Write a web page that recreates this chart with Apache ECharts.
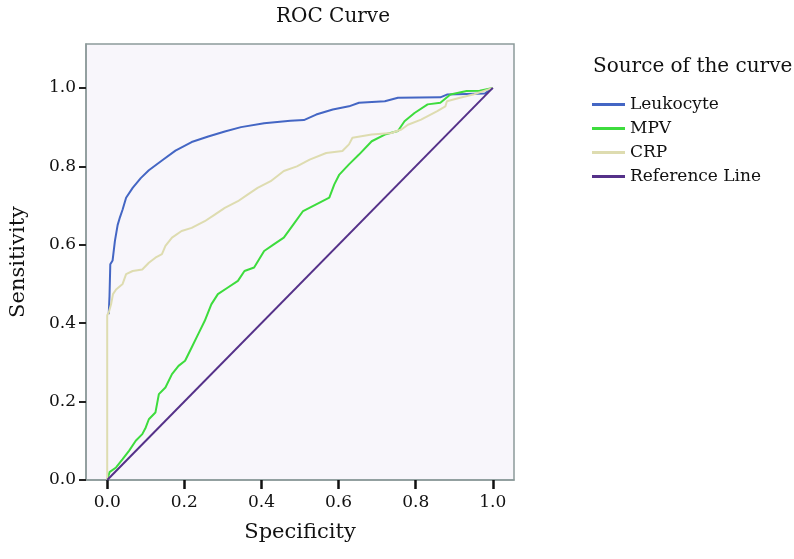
<!DOCTYPE html>
<html>
<head>
<meta charset="utf-8">
<script src="https://cdn.jsdelivr.net/npm/echarts@6/dist/echarts.min.js"></script>
<style>html,body{margin:0;padding:0;background:#fff}#c{width:794px;height:559px}</style>
</head>
<body>
<div id="c"></div>
<script>
const xTicks = [0.0, 0.2, 0.4, 0.6, 0.8, 1.0];
const yTicks = [0.0, 0.2, 0.4, 0.6, 0.8, 1.0];
const seriesNames = ['Leukocyte', 'MPV', 'CRP', 'Reference Line'];

const leukocyte = [[0.004,0.423],[0.006,0.47],[0.008,0.55],[0.014,0.56],[0.02,0.61],[0.027,0.65],[0.033,0.67],[0.04,0.69],[0.049,0.72],[0.066,0.745],[0.087,0.77],[0.108,0.79],[0.142,0.815],[0.177,0.84],[0.219,0.862],[0.262,0.876],[0.305,0.889],[0.347,0.9],[0.407,0.91],[0.475,0.916],[0.51,0.918],[0.542,0.932],[0.585,0.945],[0.627,0.953],[0.653,0.962],[0.72,0.966],[0.754,0.975],[0.864,0.976],[0.881,0.983],[0.98,0.986],[1,1]];

const mpv = [[0,0],[0.006,0.02],[0.023,0.032],[0.04,0.053],[0.057,0.075],[0.074,0.1],[0.091,0.117],[0.1,0.134],[0.108,0.155],[0.125,0.172],[0.134,0.219],[0.151,0.236],[0.168,0.27],[0.185,0.291],[0.202,0.304],[0.219,0.338],[0.236,0.372],[0.253,0.406],[0.27,0.448],[0.287,0.474],[0.313,0.491],[0.339,0.508],[0.356,0.533],[0.381,0.542],[0.407,0.584],[0.432,0.601],[0.458,0.618],[0.483,0.652],[0.508,0.686],[0.542,0.703],[0.576,0.72],[0.589,0.754],[0.602,0.779],[0.627,0.805],[0.653,0.83],[0.686,0.864],[0.72,0.881],[0.754,0.89],[0.771,0.915],[0.797,0.936],[0.831,0.958],[0.864,0.962],[0.89,0.983],[0.932,0.992],[0.966,0.993],[1,1]];

const crp = [[0,0],[0,0.42],[0.004,0.427],[0.01,0.448],[0.015,0.474],[0.023,0.486],[0.04,0.5],[0.049,0.525],[0.066,0.533],[0.091,0.537],[0.108,0.554],[0.125,0.567],[0.142,0.576],[0.151,0.597],[0.168,0.618],[0.193,0.635],[0.219,0.643],[0.253,0.66],[0.279,0.677],[0.305,0.694],[0.339,0.711],[0.364,0.728],[0.39,0.745],[0.424,0.762],[0.458,0.788],[0.492,0.8],[0.525,0.817],[0.568,0.834],[0.61,0.839],[0.627,0.856],[0.636,0.873],[0.686,0.881],[0.737,0.885],[0.763,0.894],[0.78,0.906],[0.814,0.919],[0.856,0.941],[0.877,0.953],[0.881,0.966],[0.915,0.975],[0.949,0.983],[1,1]];

const referenceLine = [[0,0],[1,1]];

const colors = ['#4466c4', '#3ddc3d', '#dedcb0', '#553189'];
const FONT = 'DejaVu Serif';

const chart = echarts.init(document.getElementById('c'), null, {renderer: 'canvas'});
const dataSets = [leukocyte, mpv, crp, referenceLine];

const lineSeries = seriesNames.map((n, i) => ({
  name: n, type: 'line', data: dataSets[i], showSymbol: false, symbol: 'none',
  color: colors[i], lineStyle: {width: 2, color: colors[i]}, z: i === 3 ? 5 : 3 + i * 0.1
}));

chart.setOption({
  animation: false,
  backgroundColor: '#ffffff',
  title: [
    {text: 'ROC Curve', left: 328, top: 2, textAlign: 'center',
     textStyle: {fontFamily: FONT, fontSize: 20, fontWeight: 'normal', color: '#111'}},
    {text: 'Source of the curve', left: 588, top: 52,
     textStyle: {fontFamily: FONT, fontSize: 20, fontWeight: 'normal', color: '#111'}}
  ],
  legend: {
    orient: 'vertical', left: 592, top: 96, itemGap: 7, padding: 0,
    itemWidth: 33, itemHeight: 3, icon: 'rect',
    data: seriesNames,
    textStyle: {fontFamily: FONT, fontSize: 17, color: '#111', lineHeight: 17}
  },
  grid: {left: 79, right: 280, top: 44, bottom: 79, show: true,
         backgroundColor: '#f8f6fb', borderColor: '#8c9a9a', borderWidth: 1.5},
  xAxis: {
    type: 'value', min: -0.055, max: 1.055, position: 'bottom',
    name: 'Specificity', nameLocation: 'middle', nameGap: 42,
    nameTextStyle: {fontFamily: FONT, fontSize: 21, color: '#111'},
    axisLine: {show: true, onZero: false, lineStyle: {color: '#8c9a9a', width: 1.5}},
    splitLine: {show: false},
    axisTick: {show: true, inside: false, customValues: xTicks, length: 9, lineStyle: {color: '#111', width: 2.5}},
    axisLabel: {customValues: xTicks, formatter: v => v.toFixed(1), margin: 14,
                fontFamily: FONT, fontSize: 17, color: '#111'}
  },
  yAxis: {
    type: 'value', min: 0, max: 1.112, position: 'left',
    name: 'Sensitivity', nameLocation: 'middle', nameGap: 57,
    nameTextStyle: {fontFamily: FONT, fontSize: 21, color: '#111'},
    axisLine: {show: true, onZero: false, lineStyle: {color: '#8c9a9a', width: 1.5}},
    splitLine: {show: false},
    axisTick: {show: true, inside: false, customValues: yTicks, length: 7, lineStyle: {color: '#222', width: 2}},
    axisLabel: {customValues: yTicks, formatter: v => v.toFixed(1), margin: 10,
                fontFamily: FONT, fontSize: 17, color: '#111'}
  },
  series: lineSeries
});
</script>
</body>
</html>
